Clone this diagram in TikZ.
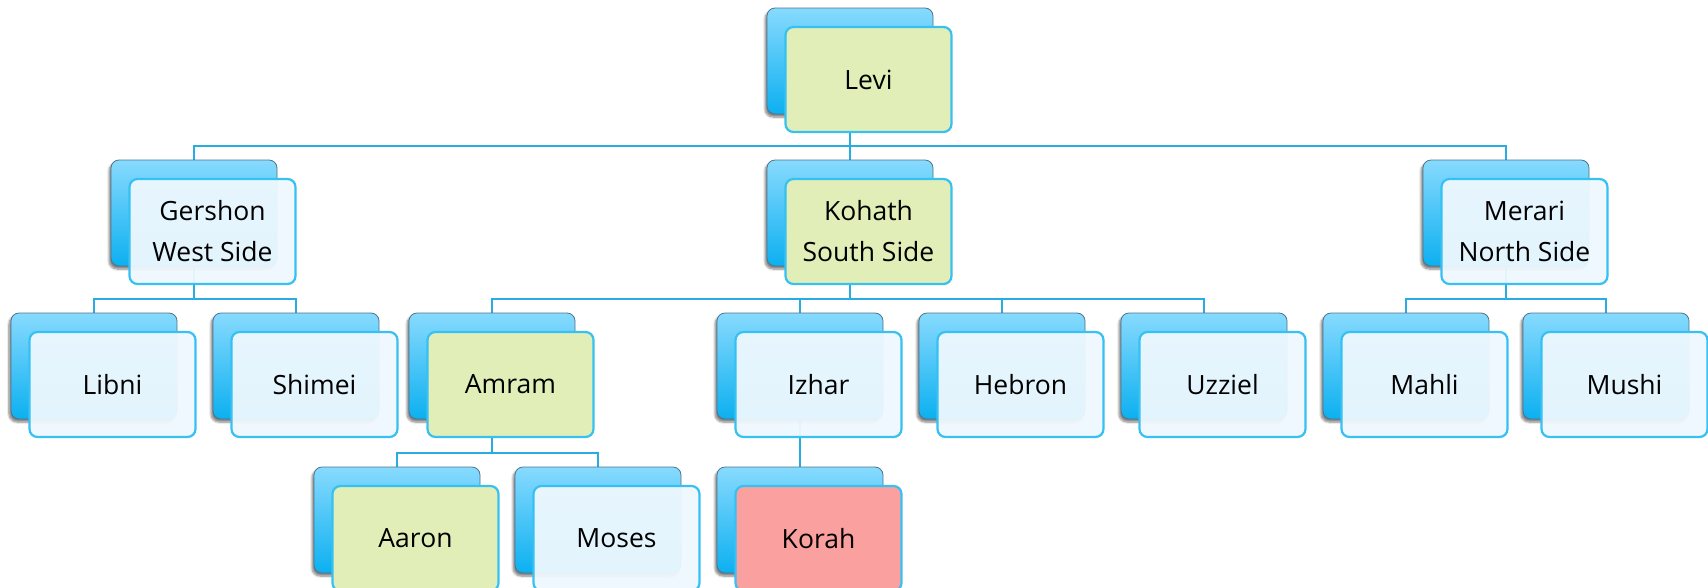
\documentclass[tikz,border=0pt]{standalone}
\usepackage{fontspec}
\setmainfont{Open Sans}
\usetikzlibrary{shadows.blur}
\definecolor{backtop}{RGB}{135,218,254}
\definecolor{backbot}{RGB}{12,176,240}
\definecolor{backline}{RGB}{80,115,140}
\definecolor{frontline}{RGB}{55,192,242}
\definecolor{frontfill}{RGB}{238,248,254}
\definecolor{greenfill}{RGB}{226,238,183}
\definecolor{redfill}{RGB}{250,160,158}
\definecolor{connline}{RGB}{40,172,226}
\pgfdeclarelayer{bg}
\pgfsetlayers{bg,main}
\tikzset{
 backbox/.style={rectangle, rounded corners=8pt, minimum width=166pt, minimum height=106pt, inner sep=0pt,
   top color=backtop, bottom color=backbot, draw=backline, line width=0.8pt,
   blur shadow={shadow xshift=-2pt, shadow yshift=-3pt, shadow opacity=50, shadow blur steps=6}},
 frontbox/.style={rectangle, rounded corners=8pt, minimum width=166pt, minimum height=105pt, inner sep=0pt,
   draw=frontline, line width=2.2pt, fill=frontfill, fill opacity=0.95, text opacity=1, draw opacity=1,
   align=center, font=\fontsize{26.5}{41}\selectfont},
 greenbox/.style={frontbox, fill=greenfill, fill opacity=1},
 redbox/.style={frontbox, fill=redfill, fill opacity=1},
 conn/.style={draw=connline, line width=2pt},
}
\begin{document}
\begin{tikzpicture}[x=1pt,y=-1pt]
\useasboundingbox (0,0) rectangle (1708,587);
% row 1
\node[backbox] (levi) at (850,61) {};
\node[greenbox] (levi-t) at ([xshift=18.5pt,yshift=-18.5pt]levi.center) {Levi};
% row 2
\node[backbox] (gershon) at (194,213) {};
\node[frontbox] (gershon-t) at ([xshift=18.5pt,yshift=-18.5pt]gershon.center) {Gershon\\West Side};
\node[backbox] (kohath) at (850,213) {};
\node[greenbox] (kohath-t) at ([xshift=18.5pt,yshift=-18.5pt]kohath.center) {Kohath\\South Side};
\node[backbox] (merari) at (1506,213) {};
\node[frontbox] (merari-t) at ([xshift=18.5pt,yshift=-18.5pt]merari.center) {Merari\\North Side};
% row 3
\node[backbox] (libni) at (94,366) {};
\node[frontbox] (libni-t) at ([xshift=18.5pt,yshift=-18.5pt]libni.center) {Libni};
\node[backbox] (shimei) at (296,366) {};
\node[frontbox] (shimei-t) at ([xshift=18.5pt,yshift=-18.5pt]shimei.center) {Shimei};
\node[backbox] (amram) at (492,366) {};
\node[greenbox] (amram-t) at ([xshift=18.5pt,yshift=-18.5pt]amram.center) {Amram};
\node[backbox] (izhar) at (800,366) {};
\node[frontbox] (izhar-t) at ([xshift=18.5pt,yshift=-18.5pt]izhar.center) {Izhar};
\node[backbox] (hebron) at (1002,366) {};
\node[frontbox] (hebron-t) at ([xshift=18.5pt,yshift=-18.5pt]hebron.center) {Hebron};
\node[backbox] (uzziel) at (1204,366) {};
\node[frontbox] (uzziel-t) at ([xshift=18.5pt,yshift=-18.5pt]uzziel.center) {Uzziel};
\node[backbox] (mahli) at (1406,366) {};
\node[frontbox] (mahli-t) at ([xshift=18.5pt,yshift=-18.5pt]mahli.center) {Mahli};
\node[backbox] (mushi) at (1606,366) {};
\node[frontbox] (mushi-t) at ([xshift=18.5pt,yshift=-18.5pt]mushi.center) {Mushi};
% row 4
\node[backbox] (aaron) at (397,520) {};
\node[greenbox] (aaron-t) at ([xshift=18.5pt,yshift=-18.5pt]aaron.center) {Aaron};
\node[backbox] (moses) at (598,520) {};
\node[frontbox] (moses-t) at ([xshift=18.5pt,yshift=-18.5pt]moses.center) {Moses};
\node[backbox] (korah) at (800,520) {};
\node[redbox] (korah-t) at ([xshift=18.5pt,yshift=-18.5pt]korah.center) {Korah};
% connectors
\begin{pgfonlayer}{bg}
\foreach \p/\c in {levi/gershon, levi/kohath, levi/merari, gershon/libni, gershon/shimei,
  kohath/amram, kohath/izhar, kohath/hebron, kohath/uzziel, merari/mahli, merari/mushi,
  amram/aaron, amram/moses, izhar/korah}
  \draw[conn] (\p.south) |- ([yshift=14pt]\c.north) -- (\c.north);
\end{pgfonlayer}
\end{tikzpicture}
\end{document}
